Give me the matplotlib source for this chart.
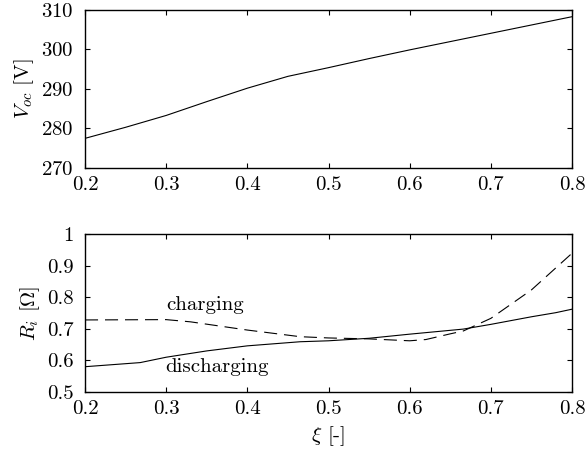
import matplotlib
matplotlib.use("Agg")
import matplotlib.pyplot as plt
from matplotlib.ticker import FuncFormatter

# state of charge
xi_voc = [0.2, 0.25, 0.3, 0.35, 0.4, 0.45, 0.5, 0.55, 0.6, 0.65, 0.7, 0.75, 0.8]
voc = [277.5, 280.3, 283.3, 286.8, 290.2, 293.2, 295.4, 297.7, 299.9, 302.0, 304.1, 306.2, 308.3]

xi_dis = [0.2, 0.268, 0.3, 0.35, 0.4, 0.465, 0.5, 0.55, 0.6, 0.666, 0.7, 0.75, 0.78, 0.8]
r_dis = [0.580, 0.593, 0.610, 0.630, 0.646, 0.659, 0.662, 0.670, 0.683, 0.699, 0.714, 0.738, 0.751, 0.762]

xi_chg = [0.2, 0.3, 0.33, 0.4, 0.465, 0.5, 0.55, 0.6, 0.62, 0.65, 0.666, 0.7, 0.75, 0.8]
r_chg = [0.728, 0.729, 0.722, 0.696, 0.675, 0.671, 0.668, 0.662, 0.666, 0.684, 0.693, 0.733, 0.823, 0.939]

plt.rcParams["font.family"] = "cmr10"
plt.rcParams["mathtext.fontset"] = "cm"
plt.rcParams["axes.formatter.use_mathtext"] = True
plt.rcParams["font.size"] = 15
plt.rcParams["lines.scale_dashes"] = False

fig = plt.figure(figsize=(5.85, 4.54), dpi=100)
ax1 = fig.add_axes([0.1453, 0.630, 0.8325, 0.348])
ax2 = fig.add_axes([0.1453, 0.1366, 0.8325, 0.348])

ax1.plot(xi_voc, voc, color="black", lw=0.8)
ax1.set_xlim(0.2, 0.8)
ax1.set_ylim(270, 310)
ax1.set_yticks([270, 280, 290, 300, 310])
ax1.set_ylabel(r"$V_{oc}$ [V]")

ax2.plot(xi_dis, r_dis, color="black", lw=0.8)
ax2.plot(xi_chg, r_chg, color="black", lw=0.8, dashes=(9.4, 5))
ax2.set_xlim(0.2, 0.8)
ax2.set_ylim(0.5, 1.0)
ax2.set_yticks([0.5, 0.6, 0.7, 0.8, 0.9, 1.0])
ax2.yaxis.set_major_formatter(FuncFormatter(lambda v, p: "%g" % v))
ax2.set_ylabel(r"$R_i$ [$\Omega$]")
ax2.set_xlabel(r"$\xi$ [-]")
ax2.text(0.348, 0.775, "charging", ha="center", va="center")
ax2.text(0.363, 0.58, "discharging", ha="center", va="center")

for ax in (ax1, ax2):
    ax.set_xticks([0.2, 0.3, 0.4, 0.5, 0.6, 0.7, 0.8])
    ax.xaxis.set_major_formatter(FuncFormatter(lambda v, p: "%g" % v))
    ax.tick_params(direction="in", top=True, right=True, length=3.6, width=0.8)
    ax.tick_params(axis="y", pad=8)
    ax.tick_params(axis="x", pad=6)
    for s in ax.spines.values():
        s.set_linewidth(1.0)

plt.savefig("out.png", dpi=100)
